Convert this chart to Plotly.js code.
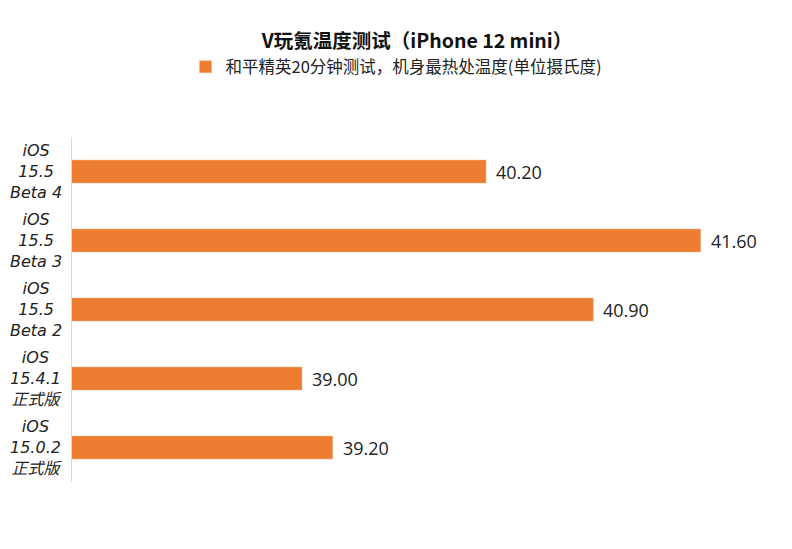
<!DOCTYPE html>
<html>
<head>
<meta charset="utf-8">
<script src="https://cdn.plot.ly/plotly-3.0.1.min.js"></script>
<style>html,body{margin:0;padding:0;background:#fff;}#chart{width:792px;height:549px;}</style>
</head>
<body>
<div id="chart"></div>
<script>
var categories = ["iOS<br>15.0.2<br>正式版", "iOS<br>15.4.1<br>正式版", "iOS<br>15.5<br>Beta 2", "iOS<br>15.5<br>Beta 3", "iOS<br>15.5<br>Beta 4"];
var temps = [39.20, 39.00, 40.90, 41.60, 40.20];
var seriesName = "和平精英20分钟测试，机身最热处温度(单位摄氏度)";
var chartTitle = "V玩氪温度测试（iPhone 12 mini）";

var fontFam = "'Open Sans', 'Noto Sans CJK SC', sans-serif";

var annotations = [];
categories.forEach(function(c, i) {
  annotations.push({
    x: -0.052, xref: "paper", y: c, yref: "y",
    text: c, showarrow: false, xanchor: "center", align: "center",
    font: {family: "'DejaVu Sans', 'Noto Sans CJK SC', sans-serif", size: 16, color: "#222", style: "italic"}
  });
  annotations.push({
    x: temps[i], xref: "x", y: c, yref: "y",
    text: temps[i].toFixed(2), showarrow: false, xanchor: "left", xshift: 8,
    font: {family: fontFam, size: 18, color: "#222"}
  });
});

var data = [{
  type: "bar",
  orientation: "h",
  x: temps,
  y: categories,
  name: seriesName,
  marker: {color: "#ED7D31", line: {color: "#F4B183", width: 0.5}},
  hoverinfo: "x+y"
}];

var layout = {
  width: 792, height: 549,
  margin: {l: 72, r: 30, t: 137, b: 67},
  paper_bgcolor: "#fff", plot_bgcolor: "#fff",
  title: {text: "<b>" + chartTitle + "</b>", x: 0.5, xref: "paper", xanchor: "center", y: 0.925, yref: "container", yanchor: "middle",
          font: {family: "'Noto Sans CJK SC', sans-serif", size: 19.5, color: "#111"}},
  showlegend: true,
  legend: {orientation: "h", x: 0.5, xref: "container", xanchor: "center", y: 0.878, yref: "container", yanchor: "middle",
           font: {family: "'Noto Sans CJK SC', sans-serif", size: 16.5, color: "#222"}},
  bargap: 0.667,
  xaxis: {range: [37.5, 42], showgrid: false, zeroline: false, showticklabels: false, ticks: "", showline: false, fixedrange: true},
  yaxis: {type: "category", showgrid: false, zeroline: false, showticklabels: false, ticks: "", showline: true, linecolor: "#d9d9d9", linewidth: 1},
  annotations: annotations
};

Plotly.newPlot("chart", data, layout, {displayModeBar: false, staticPlot: true});
</script>
</body>
</html>
